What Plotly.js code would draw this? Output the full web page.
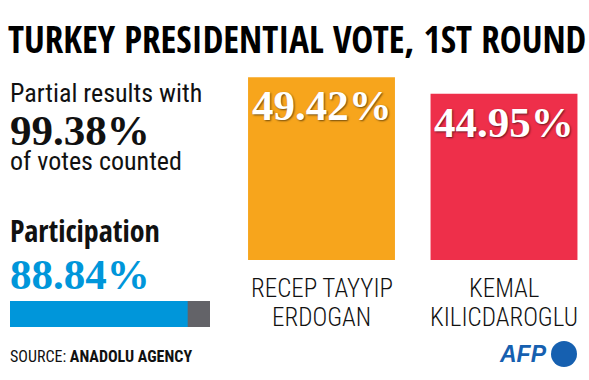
<!DOCTYPE html>
<html><head><meta charset="utf-8">
<script src="https://cdn.plot.ly/plotly-3.0.1.min.js"></script>
<style>body{margin:0;background:#fff}#chart{width:589px;height:380px}</style>
</head><body><div id="chart"></div>
<script>
// ---- data ----
const candidates = ["RECEP TAYYIP<br>ERDOGAN", "KEMAL<br>KILICDAROGLU"];
const votes = [49.42, 44.95];
const candidateColors = ["#F7A51C", "#EE2F4A"];
const participation = 88.84;
const participationTotal = 100;
const counted = 99.38;

// ---- layout helpers ----
const W = 589, H = 380, L = 10, R = 9, T = 75, B = 20;
const pw = W - L - R, ph = H - T - B;
const px = x => (x - L) / pw;
const py = y => (H - B - y) / ph;
const NARROW_B = "Open Sans Condensed, Roboto Condensed, sans-serif";
const NARROW = "Roboto Condensed, sans-serif";
const SERIF = "Liberation Serif, DejaVu Serif, serif";
const pct = v => v.toFixed(2) + "%";
const idx = candidates.map((c, i) => i);

const traces = [
  {type: "bar", x: idx, y: votes, width: 0.805, marker: {color: candidateColors},
   xaxis: "x", yaxis: "y", hoverinfo: "skip", showlegend: false},
  {type: "bar", orientation: "h", y: [0], x: [participationTotal], width: 1,
   marker: {color: "#636368"}, xaxis: "x2", yaxis: "y2", hoverinfo: "skip", showlegend: false},
  {type: "bar", orientation: "h", y: [0], x: [participation], width: 1,
   marker: {color: "#0096DA"}, xaxis: "x2", yaxis: "y2", hoverinfo: "skip", showlegend: false}
];

const annotations = [];
// value labels on the candidate bars
votes.forEach((v, i) => annotations.push({
  xref: "x", yref: "y", x: i, y: v, yanchor: "top", xanchor: "center", yshift: -3,
  text: pct(v), showarrow: false,
  font: {family: SERIF, size: 43, weight: 700, color: "#ffffff", shadow: "1px 1px 2px rgba(0,0,0,0.55)"}
}));
// candidate names (one annotation per line)
const nameLineY = [288, 317];
candidates.forEach((c, i) => c.split("<br>").forEach((line, j) => annotations.push({
  xref: "x", yref: "paper", x: i, y: py(nameLineY[j]), yanchor: "middle", xanchor: "center",
  text: line, showarrow: false,
  font: {family: NARROW, size: 25, weight: 300, color: "#111111"}
})));
// left texts
const leftTexts = [
  {t: "Partial results with", y: 92.5, size: 26, fam: NARROW, w: 400, c: "#111111"},
  {t: pct(counted), y: 130, size: 43, fam: SERIF, w: 700, c: "#111111"},
  {t: "of votes counted", y: 161, size: 26, fam: NARROW, w: 400, c: "#111111"},
  {t: "Participation", y: 231, size: 30, fam: NARROW_B, w: 700, c: "#111111"},
  {t: pct(participation), y: 274, size: 43, fam: SERIF, w: 700, c: "#0096DA"},
  {t: "SOURCE: <b>ANADOLU AGENCY</b>", y: 356, size: 16, fam: NARROW, w: 400, c: "#111111"}
];
leftTexts.forEach(o => annotations.push({
  xref: "paper", yref: "paper", x: px(10), y: py(o.y), xanchor: "left", yanchor: "middle",
  xshift: -2, text: o.t, showarrow: false,
  font: {family: o.fam, size: o.size, weight: o.w, color: o.c}
}));
// AFP logo text
annotations.push({
  xref: "paper", yref: "paper", x: px(549), y: py(354), xanchor: "right", yanchor: "middle",
  text: "<b><i>AFP</i></b>", showarrow: false,
  font: {family: "Liberation Sans, Arial, sans-serif", size: 23, color: "#1660B0"}
});

const layout = {
  width: W, height: H,
  margin: {l: L, r: R, t: T, b: B},
  paper_bgcolor: "#ffffff", plot_bgcolor: "rgba(0,0,0,0)",
  barmode: "overlay",
  title: {text: "TURKEY PRESIDENTIAL VOTE, 1ST ROUND", x: 8 / W, xanchor: "left",
          y: 1 - 40 / H, yanchor: "middle",
          font: {family: NARROW_B, size: 37, weight: 700, color: "#000000"}},
  xaxis: {domain: [px(230), 1], range: [-0.5014, 1.4164], visible: false, fixedrange: true},
  yaxis: {domain: [py(260), 1], range: [0, 50], visible: false, fixedrange: true},
  xaxis2: {domain: [0, px(210)], range: [0, participationTotal], visible: false, anchor: "y2"},
  yaxis2: {domain: [py(327), py(301)], range: [-0.5, 0.5], visible: false, anchor: "x2"},
  annotations: annotations,
  shapes: [{type: "circle", xref: "paper", yref: "paper",
            x0: px(551), x1: px(577), y0: py(367), y1: py(341),
            fillcolor: "#1660B0", line: {width: 0}}]
};

Plotly.newPlot("chart", traces, layout, {displayModeBar: false, staticPlot: true});
</script></body></html>
